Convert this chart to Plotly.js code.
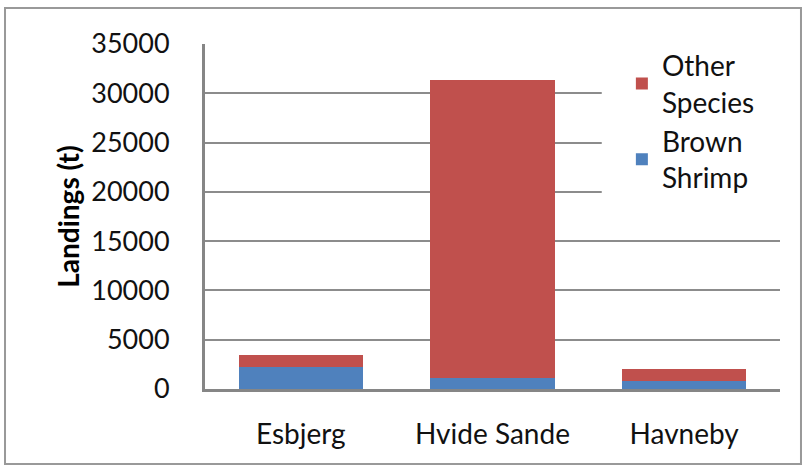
<!DOCTYPE html>
<html>
<head>
<meta charset="utf-8">
<script src="https://cdn.plot.ly/plotly-3.0.1.min.js"></script>
<style>
  html, body { margin: 0; padding: 0; background: #fff; }
  #chart { width: 803px; height: 467px; }
</style>
</head>
<body>
<div id="chart"></div>
<script>
const categories = ["Esbjerg", "Hvide Sande", "Havneby"];
const brownShrimp = [2200, 1150, 850];
const otherSpecies = [1300, 30150, 1150];
const yTickVals = [0, 5000, 10000, 15000, 20000, 25000, 30000, 35000];
const yTickText = ["0", "5000", "10000", "15000", "20000", "25000", "30000", "35000"];

const FONT = "Lato, 'Open Sans', sans-serif";
const TXT = "#111";

const traces = [
  {
    type: "bar",
    name: "Brown<br>Shrimp",
    x: categories,
    y: brownShrimp,
    marker: { color: "#4F81BD" }
  },
  {
    type: "bar",
    name: "Other<br>Species",
    x: categories,
    y: otherSpecies,
    marker: { color: "#C0504D" }
  }
];

const layout = {
  width: 803,
  height: 467,
  margin: { l: 205, r: 23, t: 44, b: 78 },
  paper_bgcolor: "#fff",
  plot_bgcolor: "#fff",
  barmode: "stack",
  bargap: 0.35,
  font: { family: FONT, size: 26, color: TXT },
  showlegend: true,
  legend: {
    x: 0.725, xanchor: "left",
    y: 1.01, yanchor: "top",
    bgcolor: "rgba(0,0,0,0)",
    traceorder: "reversed",
    font: { family: FONT, size: 28, color: TXT },
    tracegroupgap: 0
  },
  xaxis: {
    type: "category",
    showline: true,
    linecolor: "#868686",
    linewidth: 3,
    ticks: "",
    ticklabelstandoff: 18,
    showgrid: false,
    zeroline: false,
    tickfont: { family: FONT, size: 28, color: TXT }
  },
  yaxis: {
    range: [0, 35000],
    tickvals: yTickVals,
    ticktext: yTickText,
    showline: true,
    linecolor: "#868686",
    linewidth: 3,
    ticks: "",
    ticklabelstandoff: 27,
    showgrid: true,
    gridcolor: "#8c8c8c",
    gridwidth: 2,
    zeroline: false,
    tickfont: { family: FONT, size: 27, color: TXT },
    title: {
      text: "<b>Landings (t)</b>",
      font: { family: FONT, size: 28, color: "#000" },
      standoff: 4
    }
  },
  shapes: [
    {
      type: "rect", xref: "paper", yref: "paper",
      x0: -0.3478, x1: 1.0365, y0: -0.2174, y1: 1.1043,
      line: { color: "#999", width: 2 },
      fillcolor: "rgba(0,0,0,0)",
      layer: "below"
    },
    {
      type: "rect", xref: "paper", yref: "paper",
      x0: 0.69, x1: 1.0, y0: 0.55, y1: 0.99,
      line: { width: 0 },
      fillcolor: "#fff",
      layer: "above"
    }
  ]
};

Plotly.newPlot("chart", traces, layout, { displayModeBar: false, staticPlot: true });
</script>
</body>
</html>
